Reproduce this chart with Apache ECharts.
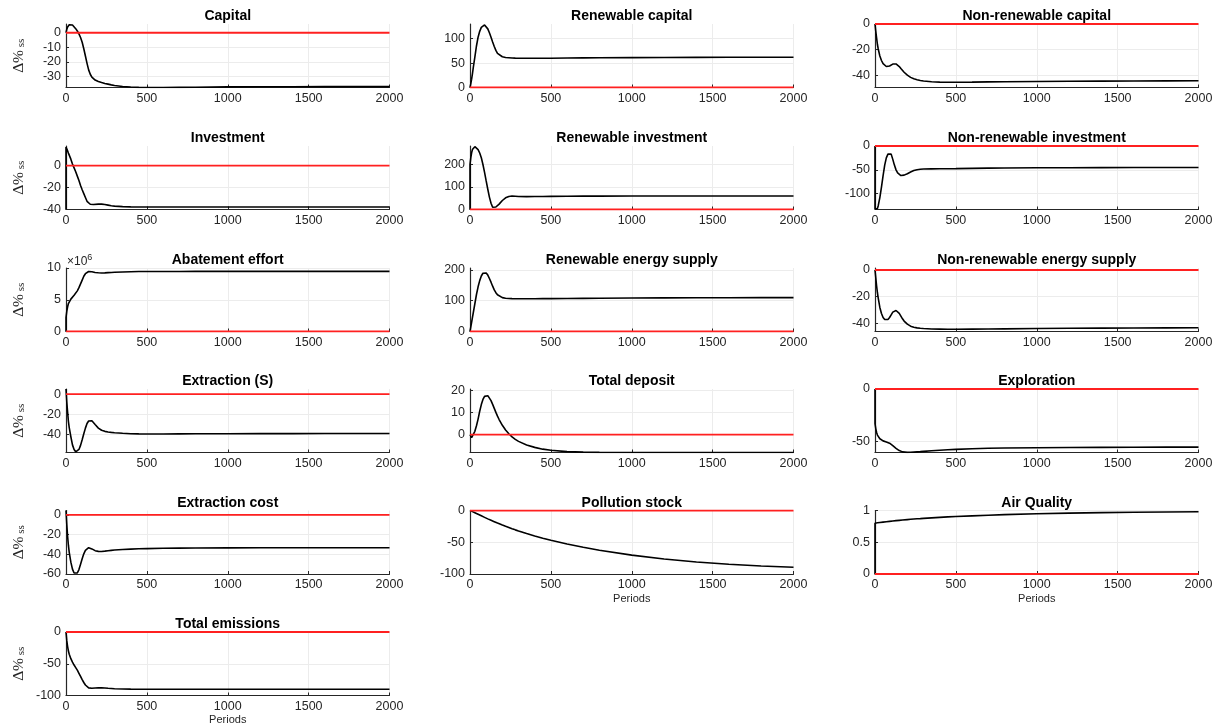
<!DOCTYPE html>
<html>
<head>
<meta charset="utf-8">
<script src="https://cdn.jsdelivr.net/npm/echarts@6/dist/echarts.min.js"></script>
<style>html,body{margin:0;padding:0;background:#fff}#c{width:1220px;height:727px}</style>
</head>
<body>
<div id="c"></div>
<script>
// ---- data ----
const periods = [0,0,5,10,15,20,30,40,50,60,70,80,90,100,110,120,130,140,150,160,170,180,200,220,240,260,280,300,350,400,450,500,600,700,800,1000,1200,1400,1600,1800,2000];
const xTicks = [0,500,1000,1500,2000];
const referenceLevel = 0;

const titles = ['Capital','Renewable capital','Non-renewable capital',
  'Investment','Renewable investment','Non-renewable investment',
  'Abatement effort','Renewable energy supply','Non-renewable energy supply',
  'Extraction (S)','Total deposit','Exploration',
  'Extraction cost','Pollution stock','Air Quality',
  'Total emissions'];

const capital = [0,0, 2.5,4,5,5.5, 5.8,5.3,4.2,2.8,1.2,-0.8,-3.3,-6.5, -11,-16,-21,-25.5,-28.5,-30.5,-31.7,-32.5, -33.5,-34.2,-34.8,-35.3,-35.8,-36.2, -36.9,-37.3,-37.5,-37.6, -37.6,-37.5,-37.4, -37.2,-37.1,-37.1,-37.0,-37.0,-37.0];
const renewableCapital = [0,0, 8,17,28,40, 62,85,103,115,123,127,128,126, 120,112,103,93,84,76,70,66, 63,61.5,61,60.5,60.2,60, 59.8,59.8,59.9,60, 60.3,60.6,60.8, 61.2,61.5,61.7,61.9,62,62];
const nonRenewableCapital = [0,0, -6,-11,-16,-19.5, -25,-28.5,-31,-32.5,-33.2,-33.3,-32.8,-32, -31.3,-31,-31.2,-32,-33.2,-34.8,-36.3,-37.7, -40,-41.7,-42.8,-43.5,-44.1,-44.5, -45.1,-45.4,-45.5,-45.5, -45.4,-45.2,-45.1, -44.9,-44.7,-44.6,-44.5,-44.4,-44.3];
const investment = [-40,17, 15.5,13.5,11.5,9.8, 6,1.5,-2,-5.5,-9.5,-13.5,-18,-22, -25.5,-29,-32.5,-34.3,-35.2,-35.5,-35.5,-35.3, -35.1,-35.1,-35.5,-36,-36.5,-36.9, -37.4,-37.6,-37.7,-37.7, -37.7,-37.7,-37.7, -37.7,-37.7,-37.7,-37.7,-37.7,-37.7];
const renewableInvestment = [0,200, 230,252,266,274, 279,276,266,251,230,200,165,127, 90,55,28,10,8,11,17,24, 40,52,58,60,59,58, 57,57.5,58,58.5, 59,59.3,59.5, 59.8,60,60,60,60,60];
const nonRenewableInvestment = [0,-132, -133,-133,-131,-125, -108,-86,-62,-40,-25,-17,-14.5,-17, -28,-40,-50,-56.5,-60,-61.8,-62,-61, -58,-54.5,-51.5,-49.7,-48.8,-48.3, -47.9,-47.7,-47.5,-47.3, -46.8,-46.4,-46.1, -45.7,-45.4,-45.2,-45.1,-45,-45];
const abatementEffort = [0,2.2, 3.2,3.9,4.4,4.7, 5.1,5.4,5.7,6.0,6.4,6.9,7.5,8.1, 8.7,9.1,9.35,9.45,9.45,9.4,9.35,9.3, 9.25,9.22,9.23,9.27,9.3,9.33, 9.38,9.42,9.44,9.45, 9.46,9.46,9.47, 9.47,9.47,9.47,9.47,9.47,9.47]; // x 10^6
const renewableEnergySupply = [0,0, 15,30,45,60, 90,120,145,165,180,189,192,190, 183,172,160,147,135,126,119,115, 110,108,107,106.5,106.3,106.2, 106.2,106.4,106.6,106.8, 107.2,107.6,108, 108.5,109,109.3,109.6,109.8,110];
const nonRenewableEnergySupply = [0,0, -6,-12,-17,-21, -28,-32.5,-35.5,-37,-37.5,-37,-35.5,-33.5, -31.5,-30.5,-30.3,-31,-32.5,-34.5,-36.5,-38.2, -40.5,-42,-42.8,-43.3,-43.6,-43.8, -44.1,-44.2,-44.3,-44.3, -44.2,-44.1,-44, -43.8,-43.6,-43.5,-43.4,-43.3,-43.2];
const extractionS = [5,5, -8,-18,-27,-33, -42,-50,-54.5,-56.8,-56.5,-54.5,-50.5,-45, -39,-33.5,-29,-26.5,-25.8,-26.3,-28,-30, -33.5,-35.6,-36.7,-37.3,-37.7,-38, -38.6,-39,-39.2,-39.3, -39.3,-39.2,-39.1, -39,-38.9,-38.9,-38.8,-38.8,-38.8];
const totalDeposit = [0,0, -0.8,-1.3,-1.2,-0.6, 1.5,4,7,10.5,13.5,15.8,17.2,17.7, 17.5,16.7,15.3,13.6,11.8,10,8.3,6.8, 4.2,2.1,0.4,-1,-2.1,-3, -4.6,-5.7,-6.5,-7, -7.6,-7.85,-7.95, -8,-8,-8,-8,-8,-8];
const exploration = [0,-33, -38,-41.5,-44,-45.5, -47.5,-48.8,-49.5,-50,-50.5,-51,-51.7,-52.7, -54,-55.3,-56.6,-57.8,-58.8,-59.5,-60,-60.3, -60.5,-60.4,-60.2,-60,-59.8,-59.5, -59,-58.5,-58,-57.6, -57,-56.6,-56.3, -56,-55.8,-55.7,-55.6,-55.5,-55.5];
const extractionCost = [4.5,4.5, -10,-22,-31,-38, -48,-55,-59,-60,-59,-55.5,-50,-44.5, -39.5,-36,-34,-33.3,-33.6,-34.5,-35.5,-36.3, -37,-37.1,-36.8,-36.4,-36,-35.7, -35.1,-34.7,-34.4,-34.2, -33.9,-33.7,-33.6, -33.5,-33.4,-33.4,-33.4,-33.4,-33.4];
const pollutionStock = [0,0, -0.6,-1.2,-1.8,-2.4, -3.6,-4.8,-6,-7.2,-8.4,-9.6,-10.8,-12, -13.2,-14.3,-15.4,-16.5,-17.6,-18.7,-19.8,-20.8, -22.9,-24.9,-26.8,-28.7,-30.5,-32.2, -36.3,-40.1,-43.6,-46.8, -52.8,-58,-62.6, -70.3,-76.3,-81,-84.6,-87.3,-89.3];
const airQuality = [0,0.8, 0.802,0.804,0.806,0.808, 0.811,0.814,0.817,0.82,0.823,0.826,0.829,0.832, 0.835,0.837,0.84,0.842,0.845,0.847,0.85,0.852, 0.857,0.861,0.865,0.869,0.872,0.876, 0.884,0.892,0.899,0.905, 0.916,0.926,0.935, 0.948,0.958,0.966,0.972,0.977,0.98];
const totalEmissions = [0,0, -14,-23,-30,-35, -42,-47.5,-52,-56,-60,-65,-70,-75, -79.5,-83.5,-86.5,-88,-88.5,-88.5,-88.3,-88.2, -88,-88,-88.3,-88.7,-89,-89.3, -89.7,-90,-90.1,-90.2, -90.2,-90.2,-90.2, -90.2,-90.2,-90.2,-90.2,-90.2,-90.2];

const panelValues = [capital, renewableCapital, nonRenewableCapital,
  investment, renewableInvestment, nonRenewableInvestment,
  abatementEffort, renewableEnergySupply, nonRenewableEnergySupply,
  extractionS, totalDeposit, exploration,
  extractionCost, pollutionStock, airQuality,
  totalEmissions];

const yLimits = [[-37.6,6],[0,130],[-49.6,0],
  [-40,18],[0,282],[-133,0],
  [0,10],[0,206],[-46,1.5],
  [-57.5,5],[-8,20.5],[-60.6,0],
  [-60,4.5],[-100,0],[0,1],
  [-100,0]];

const yTicks = [[-30,-20,-10,0],[0,50,100],[-40,-20,0],
  [-40,-20,0],[0,100,200],[-100,-50,0],
  [0,5,10],[0,100,200],[-40,-20,0],
  [-40,-20,0],[0,10,20],[-50,0],
  [-60,-40,-20,0],[-100,-50,0],[0,0.5,1],
  [-100,-50,0]];

const periodsLabelPanels = [13,14,15];
const scaleNotePanel = 6;

// ---- layout ----
const colLeft = [66,470,875];
const rowTop = [24,146,268,389,510.5,632];
const W = 323.5, H = 63.5;
const FONT = '"Liberation Sans", Arial, Helvetica, sans-serif';
const SERIF = '"Liberation Serif", "DejaVu Serif", serif';
const axisColor = '#262626';
const gridColor = '#ececec';
const plainNum = v => String(v);

const grids = [], xAxes = [], yAxes = [], series = [], graphics = [];

panelValues.forEach((vals, i) => {
  const r = Math.floor(i / 3), c = i % 3;
  grids.push({left: colLeft[c], top: rowTop[r], width: W, height: H, containLabel: false, outerBoundsMode: 'none'});
  xAxes.push({
    gridIndex: i, type: 'value', min: xTicks[0], max: xTicks[xTicks.length-1], interval: xTicks[1]-xTicks[0],
    axisLine: {show: true, onZero: false, lineStyle: {color: axisColor, width: 1.2}},
    axisTick: {show: true, inside: true, length: 3, lineStyle: {color: axisColor}},
    axisLabel: {show: true, margin: 4.5, fontSize: 12.5, color: axisColor, fontFamily: FONT, formatter: plainNum, showMinLabel: true, showMaxLabel: true, hideOverlap: false},
    splitLine: {show: true, lineStyle: {color: gridColor, width: 1}},
    name: periodsLabelPanels.includes(i) ? 'Periods' : '',
    nameLocation: 'middle', nameGap: 19,
    nameTextStyle: {fontSize: 11, color: axisColor, fontFamily: FONT}
  });
  yAxes.push({
    gridIndex: i, type: 'value', min: yLimits[i][0], max: yLimits[i][1],
    axisLine: {show: true, onZero: false, lineStyle: {color: axisColor, width: 1.2}},
    axisTick: {show: true, inside: true, length: 3, lineStyle: {color: axisColor}, customValues: yTicks[i]},
    axisLabel: {show: true, margin: 5, fontSize: 12.5, color: axisColor, fontFamily: FONT, formatter: plainNum, customValues: yTicks[i], showMinLabel: true, showMaxLabel: true, hideOverlap: false},
    splitLine: {show: true, lineStyle: {color: gridColor, width: 1}},
    name: c === 0 ? '{a|Δ%}{b| ss}' : '',
    nameLocation: 'middle', nameRotate: 90, nameGap: 39,
    nameTextStyle: {rich: {
      a: {fontSize: 15.5, fontFamily: SERIF, color: axisColor},
      b: {fontSize: 11, fontFamily: SERIF, color: axisColor, verticalAlign: 'bottom'}
    }}
  });
  series.push({
    type: 'line', xAxisIndex: i, yAxisIndex: i, animation: false,
    data: periods.map((p, k) => [p, vals[k]]),
    symbol: 'none', showSymbol: false, smooth: false,
    lineStyle: {color: '#000000', width: 1.6}, z: 3
  });
  series.push({
    type: 'line', xAxisIndex: i, yAxisIndex: i, animation: false,
    data: [[periods[0], referenceLevel], [periods[periods.length-1], referenceLevel]],
    symbol: 'none', showSymbol: false,
    lineStyle: {color: '#ff2020', width: 1.8}, z: 4
  });
  graphics.push({
    type: 'text', x: colLeft[c] + W / 2, y: rowTop[r] - 7.5, silent: true,
    style: {text: titles[i], align: 'center', verticalAlign: 'middle', fontSize: 14, fontWeight: 'bold', fontFamily: FONT, fill: '#000'}
  });
});

// scale note for abatement effort
(function(){
  const r = Math.floor(scaleNotePanel / 3), c = scaleNotePanel % 3;
  graphics.push({
    type: 'text', x: colLeft[c] + 1, y: rowTop[r] - 6, silent: true,
    style: {text: '×10{s|6}', align: 'left', verticalAlign: 'middle', fontSize: 12, fontFamily: FONT, fill: axisColor,
      rich: {s: {fontSize: 9, fontFamily: FONT, fill: axisColor, padding: [0,0,8,0]}}}
  });
})();

const chart = echarts.init(document.getElementById('c'), null, {renderer: 'canvas'});
chart.setOption({
  backgroundColor: '#ffffff',
  animation: false,
  grid: grids, xAxis: xAxes, yAxis: yAxes, series: series,
  graphic: graphics
});
</script>
</body>
</html>
